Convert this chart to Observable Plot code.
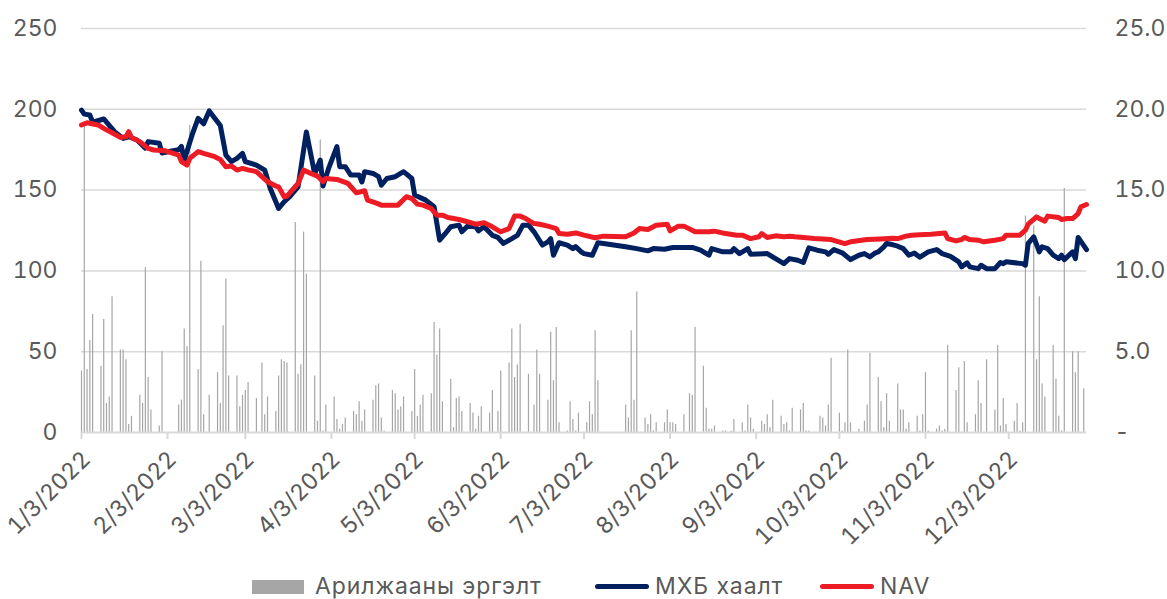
<!DOCTYPE html>
<html>
<head>
<meta charset="utf-8">
<script src="https://cdn.jsdelivr.net/npm/d3@7"></script>
<script src="https://cdn.jsdelivr.net/npm/@observablehq/plot@0.6"></script>
<style>
  body { margin: 0; background: #fff; font-family: Inter, "DejaVu Sans", sans-serif; }
  #wrap { position: relative; width: 1167px; height: 599px; overflow: hidden; }
  #legend { position: absolute; left: 0; top: 0; width: 1167px; height: 599px; pointer-events: none; }
  .sw { position: absolute; }
  .lt { position: absolute; font-size: 23px; color: #595959; line-height: 23px; white-space: nowrap; letter-spacing: 0.9px; }
</style>
</head>
<body>
<div id="wrap">
  <div id="chart"></div>
  <div id="legend"></div>
</div>
<script>
// ---- Data ----
const legendLabels = ["Арилжааны эргэлт", "МХБ хаалт", "NAV"];
const leftTicks = [0, 50, 100, 150, 200, 250];
const rightTicks = [0, 5, 10, 15, 20, 25];
const xTickDates = ["2022-01-03","2022-02-03","2022-03-03","2022-04-03","2022-05-03","2022-06-03",
  "2022-07-03","2022-08-03","2022-09-03","2022-10-03","2022-11-03","2022-12-03"];

const mxbDates = ["2022-01-03","2022-01-04","2022-01-06","2022-01-07","2022-01-11","2022-01-13","2022-01-15","2022-01-18","2022-01-20","2022-01-23",
"2022-01-26","2022-01-27","2022-01-31","2022-02-01","2022-02-04","2022-02-07","2022-02-08","2022-02-09","2022-02-12","2022-02-14",
"2022-02-16","2022-02-18","2022-02-22","2022-02-24","2022-02-26","2022-02-28","2022-03-02","2022-03-03","2022-03-07","2022-03-10",
"2022-03-12","2022-03-15","2022-03-17","2022-03-19","2022-03-22","2022-03-25","2022-03-27","2022-03-28","2022-03-30","2022-03-31",
"2022-04-02","2022-04-05","2022-04-06","2022-04-08","2022-04-10","2022-04-13","2022-04-14","2022-04-15","2022-04-18","2022-04-20",
"2022-04-21","2022-04-23","2022-04-26","2022-04-29","2022-05-02","2022-05-03","2022-05-07","2022-05-10","2022-05-12","2022-05-14",
"2022-05-16","2022-05-19","2022-05-20","2022-05-22","2022-05-25","2022-05-26","2022-05-28","2022-05-31","2022-06-02","2022-06-04",
"2022-06-07","2022-06-09","2022-06-11","2022-06-13","2022-06-15","2022-06-18","2022-06-20","2022-06-21","2022-06-22","2022-06-24",
"2022-06-27","2022-06-29","2022-06-30","2022-07-02","2022-07-03","2022-07-06","2022-07-08","2022-07-10","2022-07-18","2022-07-22",
"2022-07-26","2022-07-28","2022-08-01","2022-08-04","2022-08-11","2022-08-14","2022-08-17","2022-08-18","2022-08-22","2022-08-25",
"2022-08-26","2022-08-28","2022-08-31","2022-09-01","2022-09-07","2022-09-10","2022-09-13","2022-09-15","2022-09-18","2022-09-20",
"2022-09-22","2022-09-25","2022-09-28","2022-09-29","2022-10-01","2022-10-04","2022-10-07","2022-10-10","2022-10-12","2022-10-14",
"2022-10-16","2022-10-17","2022-10-19","2022-10-20","2022-10-22","2022-10-24","2022-10-26","2022-10-28","2022-10-30","2022-11-01",
"2022-11-04","2022-11-07","2022-11-09","2022-11-12","2022-11-15","2022-11-16","2022-11-18","2022-11-19","2022-11-22","2022-11-23",
"2022-11-25","2022-11-28","2022-11-30","2022-12-01","2022-12-02","2022-12-08","2022-12-09","2022-12-10","2022-12-12","2022-12-14",
"2022-12-15","2022-12-17","2022-12-19","2022-12-21","2022-12-22","2022-12-23","2022-12-26","2022-12-27","2022-12-28","2022-12-31"];
const mxbValues = [199.5,197,196.5,192,194,190,186,182,183,181,
176,180,179,173,174,175,177,168.5,185,194.4,
191,199,190,171.7,167.6,169.6,172.7,167.6,165.5,162.4,
151,138.6,142.8,146,152,186,168.6,160,168.6,152.5,
163.4,176.9,164.5,164.5,159.3,159.3,155,161.4,160.3,158.3,
153,157.2,158.3,161.4,157.2,147,143.8,139.7,119,123,
127.3,128.3,124.2,127.7,127.3,124.8,127.3,122,120.7,117,
120,122,128.3,128.3,124.2,116,118,120,109.7,117.4,
116,113.8,115,111.8,110.7,109.7,117.4,117,114.9,113.8,
112.4,113.8,113.4,114.5,114.5,112.8,109.7,113.8,111.8,111.8,
113.8,110.7,113.8,110.3,110.7,107.6,104.5,107.6,106.6,105.2,
114.3,112.8,111.8,110.3,113.2,111.2,107,109.7,110.7,108.7,
111.2,111.8,114.9,117,116.3,115.3,113.8,109.7,111,108.5,
111.8,113.2,110.7,109,105.6,102.5,105,102.5,101.4,103.5,
101.4,101.4,105.2,104.5,105.6,104.5,103.5,117,121,111.8,
114.9,113.8,109.7,107.6,109.7,107,111.8,107.6,120.7,113.2];

const navDates = ["2022-01-03","2022-01-05","2022-01-09","2022-01-11","2022-01-14","2022-01-17","2022-01-19","2022-01-20","2022-01-21","2022-01-24",
"2022-01-27","2022-01-29","2022-02-02","2022-02-07","2022-02-08","2022-02-10","2022-02-11","2022-02-14","2022-02-16","2022-02-20",
"2022-02-22","2022-02-24","2022-02-26","2022-02-28","2022-03-02","2022-03-04","2022-03-07","2022-03-11","2022-03-14","2022-03-15",
"2022-03-17","2022-03-18","2022-03-22","2022-03-24","2022-03-27","2022-03-29","2022-03-31","2022-04-01","2022-04-05","2022-04-09",
"2022-04-12","2022-04-15","2022-04-16","2022-04-19","2022-04-21","2022-04-27","2022-04-30","2022-05-02","2022-05-04","2022-05-06",
"2022-05-09","2022-05-11","2022-05-13","2022-05-15","2022-05-19","2022-05-22","2022-05-25","2022-05-28","2022-05-31","2022-06-03",
"2022-06-06","2022-06-08","2022-06-10","2022-06-12","2022-06-15","2022-06-17","2022-06-20","2022-06-23","2022-06-24","2022-06-27",
"2022-06-30","2022-07-03","2022-07-07","2022-07-10","2022-07-18","2022-07-21","2022-07-23","2022-07-26","2022-07-29","2022-08-02",
"2022-08-03","2022-08-06","2022-08-08","2022-08-12","2022-08-17","2022-08-19","2022-08-23","2022-08-27","2022-08-29","2022-09-01",
"2022-09-04","2022-09-05","2022-09-07","2022-09-10","2022-09-13","2022-09-15","2022-09-17","2022-09-24","2022-09-30","2022-10-04",
"2022-10-05","2022-10-07","2022-10-13","2022-10-18","2022-10-22","2022-10-24","2022-10-27","2022-10-29","2022-11-01","2022-11-05",
"2022-11-10","2022-11-11","2022-11-14","2022-11-16","2022-11-17","2022-11-19","2022-11-22","2022-11-24","2022-11-28","2022-12-01",
"2022-12-02","2022-12-07","2022-12-09","2022-12-10","2022-12-13","2022-12-14","2022-12-16","2022-12-17","2022-12-21","2022-12-22",
"2022-12-24","2022-12-26","2022-12-28","2022-12-29","2022-12-31"];
const navValues = [190.3,191.7,190.3,188.2,185.5,182.6,183,186.2,182.6,180,
175.8,174.8,174.4,171.7,167.6,165.5,169.6,173.8,172.7,170.7,
169,164.5,164.9,162.4,163.4,162.5,161.4,155.2,152.5,152,
145.9,146.3,154.1,162.4,160,158.7,155.2,157.2,156.6,154.1,
148.3,149.6,143.8,142.1,140.7,140.7,145.9,144.8,141.3,140.7,
138.6,134.5,134.5,133,131.8,130.4,128.9,129.8,127.3,124.2,
126.2,133.9,133.9,132.4,129.3,128.9,127.7,126.2,123.1,122.7,
123.5,122.1,120.5,121.5,121.1,123.5,126.2,125.6,128.3,128.9,
124.8,127.7,127.7,124.2,124.2,124.6,123.1,122.1,122.1,120,
121.1,123.1,120.7,121.7,121.1,121.5,121.1,120,119.4,117.4,
116.9,118,119.4,119.8,120.2,120,121.5,122.1,122.3,122.7,
123.5,120,118.6,119.4,120.7,119.4,119,118,119,120,
122.1,122.1,125.2,128.9,133.5,132.4,130.8,133.9,133,131.8,
132.4,132.4,135.5,139.7,141.1];

const volDates = ["2022-01-03","2022-01-04","2022-01-05","2022-01-06","2022-01-07","2022-01-10","2022-01-11","2022-01-12","2022-01-13","2022-01-14",
"2022-01-17","2022-01-18","2022-01-19","2022-01-20","2022-01-21","2022-01-24","2022-01-25","2022-01-26","2022-01-27","2022-01-28",
"2022-01-31","2022-02-01","2022-02-07","2022-02-08","2022-02-09","2022-02-10","2022-02-11","2022-02-14","2022-02-15","2022-02-16",
"2022-02-18","2022-02-21","2022-02-22","2022-02-23","2022-02-24","2022-02-25","2022-02-28","2022-03-01","2022-03-02","2022-03-03",
"2022-03-04","2022-03-07","2022-03-09","2022-03-10","2022-03-11","2022-03-14","2022-03-15","2022-03-16","2022-03-17","2022-03-18",
"2022-03-21","2022-03-22","2022-03-23","2022-03-24","2022-03-25","2022-03-28","2022-03-29","2022-03-30","2022-03-31","2022-04-01",
"2022-04-04","2022-04-05","2022-04-06","2022-04-07","2022-04-08","2022-04-11","2022-04-12","2022-04-13","2022-04-14","2022-04-15",
"2022-04-18","2022-04-19","2022-04-20","2022-04-21","2022-04-22","2022-04-25","2022-04-26","2022-04-27","2022-04-28","2022-04-29",
"2022-05-02","2022-05-03","2022-05-04","2022-05-05","2022-05-06","2022-05-09","2022-05-10","2022-05-11","2022-05-12","2022-05-13",
"2022-05-16","2022-05-17","2022-05-18","2022-05-19","2022-05-20","2022-05-23","2022-05-24","2022-05-25","2022-05-26","2022-05-27",
"2022-05-30","2022-05-31","2022-06-02","2022-06-03","2022-06-06","2022-06-07","2022-06-08","2022-06-09","2022-06-10","2022-06-13",
"2022-06-15","2022-06-16","2022-06-17","2022-06-20","2022-06-21","2022-06-22","2022-06-23","2022-06-24","2022-06-27","2022-06-28",
"2022-06-29","2022-06-30","2022-07-01","2022-07-04","2022-07-05","2022-07-06","2022-07-07","2022-07-08","2022-07-18","2022-07-19",
"2022-07-20","2022-07-21","2022-07-22","2022-07-25","2022-07-26","2022-07-27","2022-07-28","2022-07-29","2022-08-01","2022-08-02",
"2022-08-03","2022-08-04","2022-08-05","2022-08-08","2022-08-10","2022-08-11","2022-08-12","2022-08-15","2022-08-16","2022-08-17",
"2022-08-18","2022-08-19","2022-08-22","2022-08-23","2022-08-25","2022-08-26","2022-08-29","2022-08-30","2022-08-31","2022-09-01",
"2022-09-02","2022-09-05","2022-09-06","2022-09-07","2022-09-08","2022-09-09","2022-09-12","2022-09-13","2022-09-14","2022-09-15",
"2022-09-16","2022-09-19","2022-09-20","2022-09-21","2022-09-22","2022-09-26","2022-09-27","2022-09-28","2022-09-29","2022-09-30",
"2022-10-03","2022-10-04","2022-10-05","2022-10-06","2022-10-07","2022-10-10","2022-10-12","2022-10-13","2022-10-14","2022-10-17",
"2022-10-18","2022-10-19","2022-10-20","2022-10-21","2022-10-24","2022-10-25","2022-10-26","2022-10-27","2022-10-28","2022-10-31",
"2022-11-01","2022-11-02","2022-11-03","2022-11-04","2022-11-07","2022-11-08","2022-11-09","2022-11-10","2022-11-11","2022-11-14",
"2022-11-15","2022-11-17","2022-11-18","2022-11-21","2022-11-22","2022-11-23","2022-11-25","2022-11-28","2022-11-29","2022-11-30",
"2022-12-01","2022-12-02","2022-12-05","2022-12-06","2022-12-07","2022-12-08","2022-12-09","2022-12-12","2022-12-13","2022-12-14",
"2022-12-15","2022-12-16","2022-12-19","2022-12-20","2022-12-21","2022-12-22","2022-12-23","2022-12-26","2022-12-27","2022-12-28",
"2022-12-30"];
const volValues = [3.8,19.0,3.9,5.7,7.3,4.1,7.0,1.8,2.2,8.4,
5.1,5.1,4.5,0.5,1.0,2.3,1.8,10.2,3.4,1.4,
0.4,5.0,1.7,2.0,6.4,5.3,19.0,3.9,10.6,1.1,
2.3,3.7,1.8,6.6,9.5,3.5,3.5,1.6,2.3,2.6,
3.1,2.1,4.3,1.1,2.2,1.3,3.5,4.5,4.4,4.3,
13.0,3.6,4.2,12.4,9.8,3.5,0.7,18.1,0.1,1.7,
2.2,0.8,0.2,0.5,0.9,1.3,1.1,1.9,0.7,1.4,
2.0,2.9,3.0,0.9,0.1,2.6,2.4,1.4,1.6,2.2,
1.3,3.9,1.0,1.7,2.3,2.4,6.8,4.8,6.4,1.9,
3.3,0.3,2.1,2.2,1.3,1.8,1.2,0.2,1.0,1.6,
1.2,2.6,1.3,3.8,4.3,6.4,3.4,4.2,6.7,3.6,
1.7,5.1,3.6,2.0,6.2,3.2,6.5,0.6,0.1,1.9,
0.8,0.1,1.2,0.6,1.9,1.1,6.3,3.2,1.7,0.9,
6.3,2.0,8.7,0.9,0.5,1.1,0.1,0.6,0.6,1.4,
0.6,0.6,0.5,1.1,2.4,2.3,6.5,4.1,1.5,0.2,
0.2,0.4,0.1,0.1,0.1,0.8,0.6,0.1,1.7,0.9,
0.2,0.7,0.5,1.1,0.3,2.0,1.0,0.5,0.6,0.1,
1.5,1.4,1.8,0.1,0.1,1.0,0.9,0.4,1.7,4.6,
1.2,0.1,0.6,5.1,0.6,0.2,0.7,1.7,4.9,3.4,
1.9,0.3,2.4,0.7,3.0,1.4,1.4,0.2,0.6,1.0,
0.1,1.1,3.7,0.1,0.2,0.4,0.1,0.2,5.4,2.6,
4.0,4.4,0.6,1.1,3.2,1.8,4.5,1.4,5.4,0.4,
2.1,0.5,0.7,1.8,0.1,0.6,13.4,12.8,4.5,8.4,
3.0,2.2,5.4,3.3,1.0,0.1,15.1,5.0,3.7,5.0,
2.7];

// ---- Build ----
const parse = d3.utcParse("%Y-%m-%d");
const mxb = mxbDates.map((d, i) => ({date: parse(d), value: mxbValues[i]}));
const nav = navDates.map((d, i) => ({date: parse(d), value: navValues[i]}));
const vol = volDates.map((d, i) => ({date: parse(d), value: volValues[i]}));
const xTicks = xTickDates.map(parse);
const RATIO = 10; // right axis (volume) → left scale

const NAVY = "#002060", RED = "#ED1C24", BARC = "#a6a6a6", GRID = "#d9d9d9", TXT = "#595959";

const chart = Plot.plot({
  width: 1167,
  height: 565,
  marginLeft: 81,
  marginRight: 81,
  marginTop: 28,
  marginBottom: 133,
  x: {type: "utc", domain: [parse("2022-01-03"), parse("2022-12-31")], label: null},
  y: {domain: [0, 250], label: null},
  style: {fontFamily: "Inter, 'DejaVu Sans', sans-serif", fontSize: "22px", color: TXT, background: "#fff", overflow: "visible"},
  marks: [
    Plot.gridY(leftTicks.filter(d => d > 0), {stroke: GRID, strokeOpacity: 1, strokeWidth: 1.5}),
    Plot.ruleX(vol, {x: "date", y1: 0, y2: d => d.value * RATIO, stroke: BARC, strokeWidth: 1.2}),
    Plot.ruleY([0], {stroke: GRID, strokeWidth: 2}),
    // tick marks
    Plot.axisX(xTicks, {tickFormat: () => "", tickSize: 7, stroke: GRID, strokeWidth: 2, label: null}),
    // tick labels
    Plot.axisX(xTicks, {
      tickFormat: d3.utcFormat("%-m/%-d/%Y"), tickRotate: -45, tickSize: 0, tickPadding: 23,
      dx: 5, fill: TXT, label: null, fontSize: 23
    }),
    Plot.axisY(leftTicks, {anchor: "left", tickSize: 0, tickPadding: 24, fill: TXT, label: null, fontSize: 23}),
    Plot.axisY(rightTicks.map(d => d * RATIO), {
      anchor: "right", tickSize: 0, tickPadding: 28, textAnchor: "start", fill: TXT, label: null, fontSize: 23,
      tickFormat: d => d === 0 ? "-" : (d / RATIO).toFixed(1)
    }),
    Plot.line(mxb, {x: "date", y: "value", stroke: NAVY, strokeWidth: 5, strokeLinejoin: "round", strokeLinecap: "round"}),
    Plot.line(nav, {x: "date", y: "value", stroke: RED, strokeWidth: 5, strokeLinejoin: "round", strokeLinecap: "round"})
  ]
});
document.getElementById("chart").appendChild(chart);

// ---- Legend (below the SVG) ----
const legend = document.getElementById("legend");
const items = [
  {label: legendLabels[0], kind: "box", color: BARC, left: 252},
  {label: legendLabels[1], kind: "line", color: NAVY, left: 595},
  {label: legendLabels[2], kind: "line", color: RED, left: 820}
];
for (const it of items) {
  const sw = document.createElement("div");
  sw.className = "sw";
  sw.style.left = it.left + "px";
  sw.style.background = it.color;
  if (it.kind === "box") {
    sw.style.top = "580px"; sw.style.width = "52px"; sw.style.height = "14px";
  } else {
    sw.style.top = "584px"; sw.style.width = "54px"; sw.style.height = "5px"; sw.style.borderRadius = "3px";
  }
  legend.appendChild(sw);
  const t = document.createElement("div");
  t.className = "lt";
  t.textContent = it.label;
  t.style.left = (it.left + (it.kind === "box" ? 63 : 60)) + "px";
  t.style.top = "575px";
  legend.appendChild(t);
}
</script>
</body>
</html>
